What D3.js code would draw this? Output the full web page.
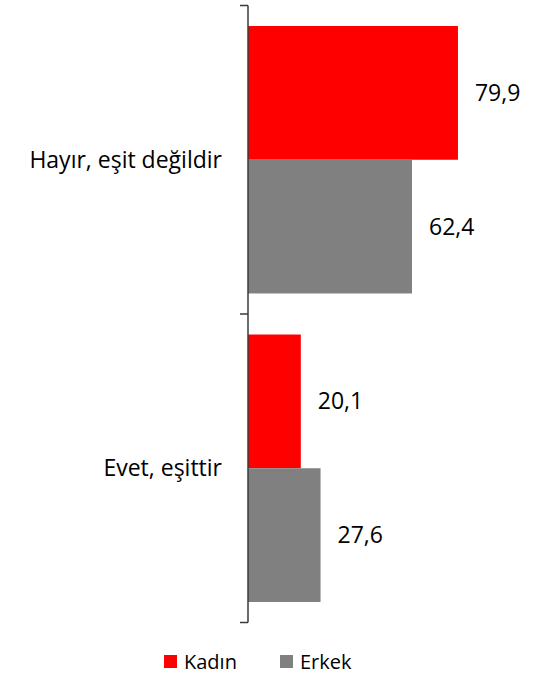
<!DOCTYPE html>
<html>
<head>
<meta charset="utf-8">
<script src="https://cdn.jsdelivr.net/npm/d3@7"></script>
<style>
  html, body { margin: 0; padding: 0; background: #fff; }
  svg { display: block; font-family: "Open Sans", sans-serif; }
</style>
</head>
<body>
<svg id="chart" width="542" height="675"></svg>
<script>
// data
const categories = ['Hayır, eşit değildir', 'Evet, eşittir'];
const series = ['Kadın', 'Erkek'];
const kadin = [79.9, 20.1];
const erkek = [62.4, 27.6];
const colors = ['#ff0000', '#808080'];

const svg = d3.select('#chart');
const axisX = 248;

const x = d3.scaleLinear()
    .domain([0, 100])
    .range([axisX, axisX + 262.8]);

const y0 = d3.scaleBand()
    .domain(categories)
    .range([5.5, 622.5])
    .paddingInner(0.133)
    .paddingOuter(0.0665);

const y1 = d3.scaleBand()
    .domain(series)
    .range([0, y0.bandwidth()]);

const rows = categories.map((c, i) => ({
    cat: c,
    values: [
        { key: 'Kadın', value: kadin[i] },
        { key: 'Erkek', value: erkek[i] }
    ]
}));

const color = d3.scaleOrdinal().domain(series).range(colors);

// bars
const group = svg.append('g')
    .selectAll('g')
    .data(rows)
    .enter().append('g')
    .attr('transform', d => `translate(0,${y0(d.cat)})`);

group.selectAll('rect')
    .data(d => d.values)
    .enter().append('rect')
    .attr('x', x(0))
    .attr('y', d => y1(d.key))
    .attr('width', d => x(d.value) - x(0))
    .attr('height', y1.bandwidth())
    .attr('fill', d => color(d.key));

// value labels
group.selectAll('text')
    .data(d => d.values)
    .enter().append('text')
    .attr('x', d => x(d.value) + 17)
    .attr('y', d => y1(d.key) + y1.bandwidth() / 2)
    .attr('dy', '0.35em')
    .attr('font-size', '23px')
    .attr('fill', '#000')
    .text(d => d3.format('.1f')(d.value).replace('.', ','));

// category axis (ticks between categories)
const r = y0.range();
const step = (r[1] - r[0]) / categories.length;
const bounds = d3.range(categories.length + 1).map(i => r[0] + i * step);

const axis = svg.append('g');
axis.append('line')
    .attr('x1', axisX).attr('x2', axisX)
    .attr('y1', r[0]).attr('y2', r[1])
    .attr('stroke', '#3a3a3a')
    .attr('stroke-width', 1.5);
axis.selectAll('line.tick')
    .data(bounds)
    .enter().append('line')
    .attr('class', 'tick')
    .attr('x1', axisX - 8).attr('x2', axisX)
    .attr('y1', d => d).attr('y2', d => d)
    .attr('stroke', '#3a3a3a')
    .attr('stroke-width', 1.5);

axis.selectAll('text')
    .data(categories)
    .enter().append('text')
    .attr('x', axisX - 26)
    .attr('y', d => y0(d) + y0.bandwidth() / 2)
    .attr('dy', '0.35em')
    .attr('text-anchor', 'end')
    .attr('font-size', '23px')
    .attr('fill', '#000')
    .text(d => d);

// legend
const legendX = [164, 280];
const legend = svg.append('g')
    .selectAll('g')
    .data(series)
    .enter().append('g')
    .attr('transform', (d, i) => `translate(${legendX[i]},655)`);

legend.append('rect')
    .attr('width', 13)
    .attr('height', 13)
    .attr('fill', d => color(d));

legend.append('text')
    .attr('x', 20)
    .attr('y', 6.5)
    .attr('dy', '0.35em')
    .attr('font-size', '20px')
    .attr('fill', '#000')
    .text(d => d);
</script>
</body>
</html>
